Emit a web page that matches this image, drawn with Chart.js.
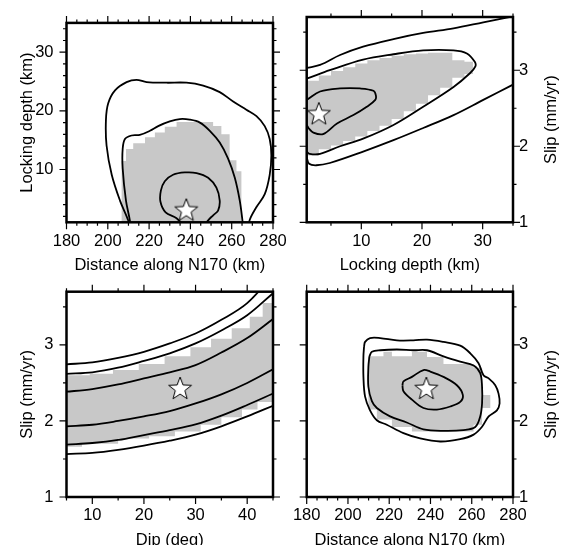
<!DOCTYPE html>
<html>
<head>
<meta charset="utf-8">
<script src="https://cdn.jsdelivr.net/npm/chart.js@4.4.0/dist/chart.umd.min.js"></script>
<style>
  html, body { margin: 0; padding: 0; background: #fff; overflow: hidden; }
  #wrap { position: relative; width: 562px; height: 545px; overflow: hidden; }
  #wrap canvas { position: absolute; left: 0; top: 0; }
</style>
</head>
<body>
<div id="wrap">
  <canvas id="pA" width="562" height="560"></canvas>
  <canvas id="pB" width="562" height="560"></canvas>
  <canvas id="pC" width="562" height="560"></canvas>
  <canvas id="pD" width="562" height="560"></canvas>
</div>
<script>
// tick labels
const distTicks = [180, 200, 220, 240, 260, 280];
const depthTicks = [10, 20, 30];
const slipTicks = [1, 2, 3];
const dipTicks = [10, 20, 30, 40];

// best-fit model (star)
const bestDist = 238;
const bestDepth = 3;
const bestSlip = 2.42;
const bestDip = 27;

// --- distance vs locking depth
const distDepthOuter = [[210.6,0],[209.9,1.3],[205.9,4.7],[201.9,9.1],[199.4,14.1],[199.1,18.5],[200.2,21.3],[203.5,23.5],[209.1,24.9],[213.9,25.3],[218.8,24.9],[228.5,24.8],[238.1,24.8],[246.2,24.3],[254.2,23.2],[260.7,21.6],[267.1,20.2],[272,19.1],[276,17.4],[278.4,15.2],[279.2,12.4],[278.4,9.1],[276,5.8],[272,3.6],[268.7,1.4],[268.3,0]];
const distDepthMiddle = [[210.9,0],[210.7,1.3],[208.8,4.7],[207.2,10.2],[207.2,13.5],[208.3,15.2],[211.5,15.8],[215.5,15.9],[220.4,16.6],[224.4,17.4],[230,18.2],[234.9,18.6],[239.7,18.5],[244.6,18.0],[249.4,16.6],[254.2,14.6],[258.2,11.9],[261.5,8.6],[263.9,4.7],[265.2,1.3],[265.4,0]];
const distDepthInner = [[237,0.3],[233.3,1.7],[228,2.7],[225.5,4.5],[225.7,6.4],[227.6,8.0],[231.6,9.1],[237.3,9.5],[243,9.4],[248.6,8.6],[252.6,6.9],[254.2,4.7],[253.4,3.0],[251,2.2],[248.3,1.2],[247,0.3]];
const distDepthGrey = [[206.7,1],[206.7,11.45],[208.8,11.45],[208.8,13.5],[212.3,13.5],[212.3,14.5],[218,14.5],[218,15.5],[222.8,15.5],[222.8,16.3],[227.6,16.3],[227.6,17.3],[233.3,17.3],[233.3,18.1],[251,18.1],[251,17.4],[255,17.4],[255,16.0],[259,16.0],[259,11.6],[262.3,11.6],[262.3,9.7],[264.7,9.7],[264.7,1]];

// --- locking depth vs slip
const depthSlipOuterTop = [[0.5,3.02],[1,3.03],[3.2,3.07],[6.5,3.2],[10.3,3.31],[15.3,3.41],[20.2,3.49],[25.2,3.55],[30.1,3.63],[35,3.71],[35.5,3.72]];
const depthSlipOuterLow = [[0.8,1.95],[1.0,1.86],[1.4,1.77],[2.6,1.75],[4.8,1.78],[10.3,1.93],[15.3,2.08],[20.2,2.24],[25.2,2.41],[30.1,2.61],[35,2.81],[35.5,2.83]];
const depthSlipMiddle = [[0.5,2.88],[1,2.89],[4.8,3.0],[10.3,3.14],[15.3,3.21],[20.2,3.26],[25.2,3.26],[27.4,3.22],[28.7,3.11],[28.8,3.05],[27.9,2.96],[25.2,2.78],[20.2,2.52],[15.3,2.28],[10.3,2.1],[6.5,2.0],[3.2,1.9],[1.5,1.9],[1,1.93],[0.5,1.97]];
const depthSlipInner = [[0.5,2.6],[1,2.61],[3.2,2.72],[6.5,2.76],[9.8,2.76],[12,2.73],[12.4,2.67],[12.3,2.61],[10.9,2.52],[8.7,2.41],[6,2.3],[3.7,2.16],[2.1,2.18],[1.3,2.24],[1,2.28],[0.5,2.32]];
const depthSlipGrey = [[1,2.86],[3,2.86],[3,2.93],[5,2.93],[5,2.99],[7,2.99],[7,3.04],[9,3.04],[9,3.09],[11,3.09],[11,3.13],[13,3.13],[13,3.16],[15,3.16],[15,3.19],[17,3.19],[17,3.21],[19,3.21],[19,3.22],[21,3.22],[21,3.23],[25,3.23],[25,3.13],[27,3.13],[27,3.11],[28.4,3.11],[28.4,2.95],[27,2.95],[27,2.90],[25,2.90],[25,2.77],[23,2.77],[23,2.67],[21,2.67],[21,2.56],[19,2.56],[19,2.46],[17,2.46],[17,2.36],[15,2.36],[15,2.27],[13,2.27],[13,2.20],[11,2.20],[11,2.13],[9,2.13],[9,2.07],[7,2.07],[7,2.01],[5,2.01],[5,1.96],[3,1.96],[3,1.88],[1,1.88]];

// --- dip vs slip
const dipSlip1 = [[4,2.74],[5,2.745],[10,2.77],[15,2.83],[20,2.91],[25,3.02],[30,3.15],[35,3.33],[40,3.55],[45,3.92]];
const dipSlip2 = [[4,2.615],[5,2.62],[10,2.64],[15,2.70],[20,2.79],[25,2.89],[30,3.02],[35,3.19],[40,3.39],[45,3.68]];
const dipSlip3 = [[4,2.38],[5,2.385],[10,2.42],[15,2.48],[20,2.56],[25,2.64],[30,2.735],[35,2.90],[40,3.09],[45,3.34]];
const dipSlip4 = [[4,1.925],[5,1.93],[10,1.95],[15,2.0],[20,2.06],[25,2.13],[30,2.23],[35,2.35],[40,2.50],[45,2.68]];
const dipSlip5 = [[4,1.685],[5,1.69],[10,1.71],[15,1.75],[20,1.815],[25,1.88],[30,1.955],[35,2.07],[40,2.21],[45,2.36]];
const dipSlip6 = [[4,1.56],[5,1.565],[10,1.58],[15,1.62],[20,1.675],[25,1.74],[30,1.82],[35,1.93],[40,2.06],[45,2.2]];
const dipSlipGrey = [[5,2.60],[9.5,2.60],[9.5,2.62],[14,2.62],[14,2.67],[19,2.67],[19,2.75],[24,2.75],[24,2.85],[29,2.85],[29,2.97],[33,2.97],[33,3.08],[37,3.08],[37,3.22],[40.5,3.22],[40.5,3.37],[43,3.37],[43,3.55],[45,3.55],[45,2.25],[42,2.25],[42,2.15],[39,2.15],[39,2.05],[35,2.05],[35,1.95],[31,1.95],[31,1.86],[26,1.86],[26,1.80],[21,1.80],[21,1.77],[15,1.77],[15,1.70],[8,1.70],[8,1.66],[5,1.66]];

// --- distance vs slip
const distSlipOuter = [[207.8,2.98],[208.3,3.04],[210.7,3.09],[215.6,3.09],[223.7,3.06],[231.7,3.06],[238.3,3.07],[246.3,3.04],[254.4,2.99],[259.3,2.89],[263.3,2.76],[265.7,2.60],[268.2,2.56],[271.4,2.47],[273,2.36],[273.5,2.23],[272.2,2.14],[268.2,2.06],[264.9,1.92],[260.9,1.82],[254.4,1.76],[244.7,1.73],[235,1.77],[226.9,1.84],[218.8,1.95],[214,2.01],[210.7,2.14],[208.3,2.32],[207.5,2.58],[207.5,2.85],[207.8,2.98]];
const distSlipMiddle = [[210.4,2.85],[211.6,2.91],[215.6,2.93],[223.7,2.94],[231.7,2.93],[238.3,2.93],[246.3,2.85],[254.4,2.78],[260.9,2.73],[264.1,2.63],[265,2.45],[265,2.23],[264.1,2.06],[261.7,1.92],[256,1.88],[246.3,1.87],[236.6,1.89],[228.5,1.98],[220.4,2.06],[214,2.17],[211.6,2.26],[209.9,2.45],[209.9,2.71],[210.4,2.85]];
const distSlipInner = [[226.4,2.47],[226.9,2.52],[231,2.58],[236.6,2.67],[239.9,2.65],[246.3,2.58],[252.8,2.47],[255.7,2.34],[254.4,2.25],[249.6,2.19],[243.1,2.15],[236.6,2.17],[231,2.28],[226.9,2.39],[226.4,2.47]];
const distSlipGrey = [[209.9,2.85],[217.2,2.85],[217.2,2.91],[221.3,2.91],[221.3,2.85],[231,2.85],[231,2.91],[238.3,2.91],[238.3,2.84],[246.3,2.84],[246.3,2.75],[260.9,2.75],[260.9,2.70],[265,2.70],[265,2.34],[269,2.34],[269,2.17],[265,2.17],[265,1.95],[260.9,1.95],[260.9,1.86],[231,1.86],[231,1.92],[221.3,1.92],[221.3,2.02],[214,2.02],[214,2.15],[209.9,2.15]];

const FONT = "'Liberation Sans', Arial, Helvetica, sans-serif";
const GREY = '#c8c8c8';
const PAGE_W = 562, PAGE_H = 560;

Chart.defaults.font.family = FONT;
Chart.defaults.font.size = 16.5;
Chart.defaults.color = '#000';

// white five-point star with a thin black outline
function starImage(r) {
  const c = document.createElement('canvas');
  const s = Math.ceil(r * 2 + 4);
  c.width = c.height = s;
  const g = c.getContext('2d');
  g.translate(s / 2, s / 2);
  g.beginPath();
  for (let i = 0; i < 10; i++) {
    const rad = i % 2 ? r * 0.42 : r;
    const a = -Math.PI / 2 + i * Math.PI / 5;
    g.lineTo(rad * Math.cos(a), rad * Math.sin(a));
  }
  g.closePath();
  g.fillStyle = '#fff';
  g.fill();
  g.lineWidth = 1;
  g.strokeStyle = '#000';
  g.stroke();
  return c;
}
const STAR = starImage(12);

const pts = arr => arr.map(([x, y]) => ({ x, y }));

function contour(arr) {
  return {
    data: pts(arr), showLine: true, borderColor: '#000', borderWidth: 1.8,
    pointRadius: 0, tension: 0.35, fill: false, order: 2
  };
}
function greyArea(arr) {
  return {
    data: pts(arr), showLine: true, borderColor: GREY, borderWidth: 0,
    backgroundColor: GREY, pointRadius: 0, tension: 0, fill: 'shape', order: 3
  };
}
function star(x, y) {
  return { data: [{ x, y }], pointStyle: STAR, pointRadius: 12, showLine: false, order: 1 };
}

const near = (v, step) => Math.abs(v / step - Math.round(v / step)) < 1e-6;

// GMT-like frame: thick box, outward major / minor ticks on all four sides
const framePlugin = {
  id: 'frame',
  afterDraw(chart, args, o) {
    const { ctx, chartArea: a } = chart;
    const x = chart.scales.x, y = chart.scales.y;
    ctx.save();
    ctx.strokeStyle = '#000';
    ctx.lineWidth = 1.2;
    ctx.beginPath();
    const x0 = Math.ceil(x.min / o.xMinor - 1e-9);
    for (let i = x0; i * o.xMinor <= x.max + 1e-9; i++) {
      const v = i * o.xMinor;
      const px = x.getPixelForValue(v);
      const len = near(v, o.xMajor) ? 7 : 3.5;
      ctx.moveTo(px, a.top); ctx.lineTo(px, a.top - len);
      ctx.moveTo(px, a.bottom); ctx.lineTo(px, a.bottom + len);
    }
    const y0 = Math.ceil(y.min / o.yMinor - 1e-9);
    for (let i = y0; i * o.yMinor <= y.max + 1e-9; i++) {
      const v = i * o.yMinor;
      const py = y.getPixelForValue(v);
      const len = near(v, o.yMajor) ? 7 : 3.5;
      ctx.moveTo(a.left, py); ctx.lineTo(a.left - len, py);
      ctx.moveTo(a.right, py); ctx.lineTo(a.right + len, py);
    }
    ctx.stroke();
    ctx.lineWidth = 2.5;
    ctx.strokeRect(a.left, a.top, a.right - a.left, a.bottom - a.top);
    if (o.rightTitle) {
      ctx.translate(a.right + 38, (a.top + a.bottom) / 2);
      ctx.rotate(-Math.PI / 2);
      ctx.font = '16.5px ' + FONT;
      ctx.fillStyle = '#000';
      ctx.textAlign = 'center';
      ctx.textBaseline = 'middle';
      ctx.fillText(o.rightTitle, 0, 0);
    }
    ctx.restore();
  }
};

function panel(id, box, xs, ys, datasets) {
  const [L, T, R, B] = box;
  const yRight = ys.side === 'right';
  const yW = yRight ? 49 : 66.5;
  new Chart(document.getElementById(id), {
    type: 'scatter',
    data: { datasets },
    plugins: [framePlugin],
    options: {
      responsive: false,
      animation: false,
      events: [],
      layout: {
        padding: {
          left: yRight ? L : L - yW,
          top: T,
          right: yRight ? PAGE_W - R - yW : PAGE_W - R,
          bottom: PAGE_H - B - 60
        }
      },
      plugins: {
        legend: { display: false },
        tooltip: { enabled: false },
        frame: {
          xMinor: xs.minor, xMajor: xs.major, yMinor: ys.minor, yMajor: ys.major,
          rightTitle: yRight ? ys.title : null
        }
      },
      scales: {
        x: {
          type: 'linear', min: xs.min, max: xs.max,
          afterBuildTicks: s => { s.ticks = xs.ticks.map(v => ({ value: v })); },
          afterFit: s => { s.height = 60; },
          ticks: { autoSkip: false, maxRotation: 0, padding: 9 },
          grid: { display: false, drawTicks: false },
          border: { display: false },
          title: { display: true, text: xs.title, padding: { top: 0, bottom: 7 } }
        },
        y: {
          type: 'linear', position: ys.side, min: ys.min, max: ys.max,
          afterBuildTicks: s => { s.ticks = ys.ticks.map(v => ({ value: v })); },
          afterFit: s => { s.width = yW; },
          ticks: { autoSkip: false, padding: yRight ? 6 : 13 },
          grid: { display: false, drawTicks: false },
          border: { display: false },
          title: { display: !yRight, text: ys.title, padding: { top: 18, bottom: 0 } }
        }
      }
    }
  });
}

const distAxis = { min: 180, max: 280, ticks: distTicks, major: 20, minor: 5, title: 'Distance along N170 (km)' };
const slipLeft = { side: 'left', min: 1, max: 3.7, ticks: slipTicks, major: 1, minor: 0.5, title: 'Slip (mm/yr)' };
const slipRight = { ...slipLeft, side: 'right' };

panel('pA', [66.5, 17, 273, 222.3],
  distAxis,
  { side: 'left', min: 1, max: 35, ticks: depthTicks, major: 10, minor: 2, title: 'Locking depth (km)' },
  [star(bestDist, bestDepth), contour(distDepthOuter), contour(distDepthMiddle), contour(distDepthInner), greyArea(distDepthGrey)]);

panel('pB', [306.7, 17, 513, 222.3],
  { min: 1, max: 35, ticks: depthTicks, major: 10, minor: 5, title: 'Locking depth (km)' },
  slipRight,
  [star(bestDepth, bestSlip), contour(depthSlipOuterTop), contour(depthSlipOuterLow), contour(depthSlipMiddle), contour(depthSlipInner), greyArea(depthSlipGrey)]);

panel('pC', [66.5, 291.7, 273, 497],
  { min: 5, max: 45, ticks: dipTicks, major: 10, minor: 5, title: 'Dip (deg)' },
  slipLeft,
  [star(bestDip, bestSlip), contour(dipSlip1), contour(dipSlip2), contour(dipSlip3), contour(dipSlip4), contour(dipSlip5), contour(dipSlip6), greyArea(dipSlipGrey)]);

panel('pD', [306.7, 291.7, 513, 497],
  distAxis,
  slipRight,
  [star(bestDist, bestSlip), contour(distSlipOuter), contour(distSlipMiddle), contour(distSlipInner), greyArea(distSlipGrey)]);
</script>
</body>
</html>
